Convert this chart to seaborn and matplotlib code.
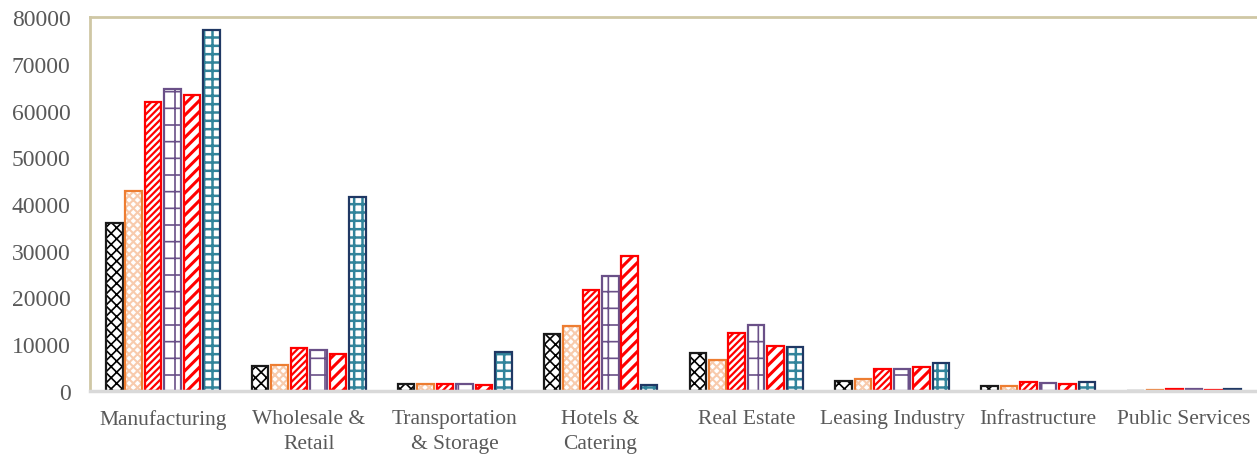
import matplotlib
matplotlib.use("Agg")
import matplotlib.pyplot as plt
from matplotlib.patches import Rectangle
import seaborn as sns
import pandas as pd

categories = ["Manufacturing", "Wholesale &\nRetail", "Transportation\n& Storage",
              "Hotels &\nCatering", "Real Estate", "Leasing Industry",
              "Infrastructure", "Public Services"]
series_names = ["S1", "S2", "S3", "S4", "S5", "S6"]
s1 = [36000, 5300, 1600, 12200, 8100, 2200, 1100, 60]
s2 = [42700, 5600, 1400, 13800, 6700, 2600, 1000, 120]
s3 = [61800, 9200, 1600, 21700, 12300, 4600, 2000, 500]
s4 = [64700, 8800, 1500, 24700, 14100, 4600, 1700, 350]
s5 = [63400, 7900, 1300, 28900, 9600, 5100, 1400, 150]
s6 = [77300, 41400, 8300, 1300, 9500, 6000, 2000, 350]
yticks = [0, 10000, 20000, 30000, 40000, 50000, 60000, 70000, 80000]

values = [s1, s2, s3, s4, s5, s6]
rows = []
for name, vals in zip(series_names, values):
    for c, v in zip(categories, vals):
        rows.append({"category": c, "series": name, "value": v})
df = pd.DataFrame(rows)

outline = ["#1a1a1a", "#ED7D31", "#FF0000", "#6A5088", "#FF0000", "#203864"]
hatchc = ["#000000", "#F8CBAD", "#FF0000", "#6A5088", "#FF0000", "#31849B"]
hatches = ["xxx", "xxxx", "/////", "+", "///", "++"]
hatch_lw = [1.2, 1.5, 1.6, 1.2, 2.2, 1.8]

sns.set_theme(style="white")
plt.rcParams["font.family"] = ["Liberation Serif", "DejaVu Serif"]
plt.rcParams["hatch.linewidth"] = 1.6

fig = plt.figure(figsize=(12.57, 4.56), dpi=100)
ax = fig.add_axes([90 / 1257, 1 - 392 / 456, 1167 / 1257, 374 / 456])

sns.barplot(data=df, x="category", y="value", hue="series", order=categories,
            hue_order=series_names, ax=ax, width=0.8, gap=0.15,
            palette=["white"] * 6, legend=False, errorbar=None)

for i, cont in enumerate(ax.containers):
    for p in cont:
        p.set_facecolor("white")
        p.set_hatch(hatches[i])
        p.set_edgecolor(hatchc[i])
        p.set_linewidth(0)
        if hasattr(p, "set_hatch_linewidth"):
            p.set_hatch_linewidth(hatch_lw[i])
        ax.add_patch(Rectangle((p.get_x(), p.get_y()), p.get_width(), p.get_height(),
                               facecolor="none", edgecolor=outline[i], linewidth=1.6,
                               zorder=p.get_zorder() + 0.1))

ax.set_ylim(0, 80000)
ax.set_xlim(-0.5, len(categories) - 0.5)
ax.set_yticks(yticks)
ax.set_yticklabels([str(t) for t in yticks])
ax.set_xlabel("")
ax.set_ylabel("")
ax.tick_params(axis="both", length=0, colors="#595959")
ax.tick_params(axis="x", pad=13, labelsize=15.5)
ax.tick_params(axis="y", pad=14, labelsize=17)
for lab in ax.get_xticklabels():
    lab.set_linespacing(1.4)

for s in ["top", "left"]:
    ax.spines[s].set_color("#CFC7A5")
    ax.spines[s].set_linewidth(2)
ax.spines["right"].set_visible(False)
ax.spines["bottom"].set_color("#D9D9D9")
ax.spines["bottom"].set_linewidth(2.5)
ax.grid(False)

fig.savefig("out.png", dpi=100)
